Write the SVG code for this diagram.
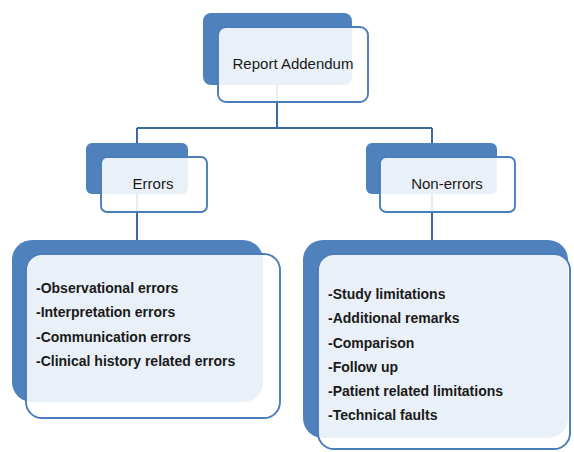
<svg xmlns="http://www.w3.org/2000/svg" width="574" height="452" viewBox="0 0 574 452">
  <style>
    .back { fill: #4F81BD; }
    .front { fill: #FFFFFF; fill-opacity: 0.88; stroke: #4A7DBB; stroke-width: 1.9; }
    .link { fill: none; stroke: #3B6AA3; stroke-width: 2; }
    .title { font-family: "Liberation Sans", Arial, sans-serif; font-size: 15px; fill: #1A1A1A; text-anchor: middle; }
    .item { font-family: "Liberation Sans", Arial, sans-serif; font-size: 14px; font-weight: bold; fill: #1A1A1A; }
  </style>
  <rect width="574" height="452" fill="#FFFFFF"/>

  <!-- connectors (drawn under the translucent node faces) -->
  <g id="connectors">
    <path class="link" d="M277,85 V128 M137,128 H432 M137,128 V240 M432,128 V240"/>
  </g>

  <!-- Report Addendum -->
  <g id="node-report-addendum">
    <rect class="back" x="203" y="13" width="149" height="72" rx="8"/>
    <rect class="front" x="218" y="27" width="150" height="75" rx="8"/>
    <text class="title" x="293" y="69">Report Addendum</text>
  </g>

  <!-- Errors -->
  <g id="node-errors">
    <rect class="back" x="86" y="143" width="102" height="51" rx="6"/>
    <rect class="front" x="101" y="157" width="106" height="55" rx="6"/>
    <text class="title" x="153" y="189">Errors</text>
  </g>

  <!-- Non-errors -->
  <g id="node-non-errors">
    <rect class="back" x="366" y="143" width="131" height="51" rx="6"/>
    <rect class="front" x="380" y="157" width="135" height="55" rx="6"/>
    <text class="title" x="447" y="189">Non-errors</text>
  </g>

  <!-- error categories -->
  <g id="node-error-list">
    <rect class="back" x="12" y="240" width="251" height="162" rx="20"/>
    <rect class="front" x="26" y="254" width="254" height="164" rx="16"/>
    <text class="item" x="36" y="292.5">-Observational errors</text>
    <text class="item" x="36" y="317">-Interpretation errors</text>
    <text class="item" x="36" y="341.5">-Communication errors</text>
    <text class="item" x="36" y="366">-Clinical history related errors</text>
  </g>

  <!-- non-error categories -->
  <g id="node-non-error-list">
    <rect class="back" x="303" y="240" width="265" height="198" rx="20"/>
    <rect class="front" x="318" y="254" width="252" height="195" rx="16"/>
    <text class="item" x="328" y="299">-Study limitations</text>
    <text class="item" x="328" y="323">-Additional remarks</text>
    <text class="item" x="328" y="347.5">-Comparison</text>
    <text class="item" x="328" y="372">-Follow up</text>
    <text class="item" x="328" y="396">-Patient related limitations</text>
    <text class="item" x="328" y="420">-Technical faults</text>
  </g>
</svg>
